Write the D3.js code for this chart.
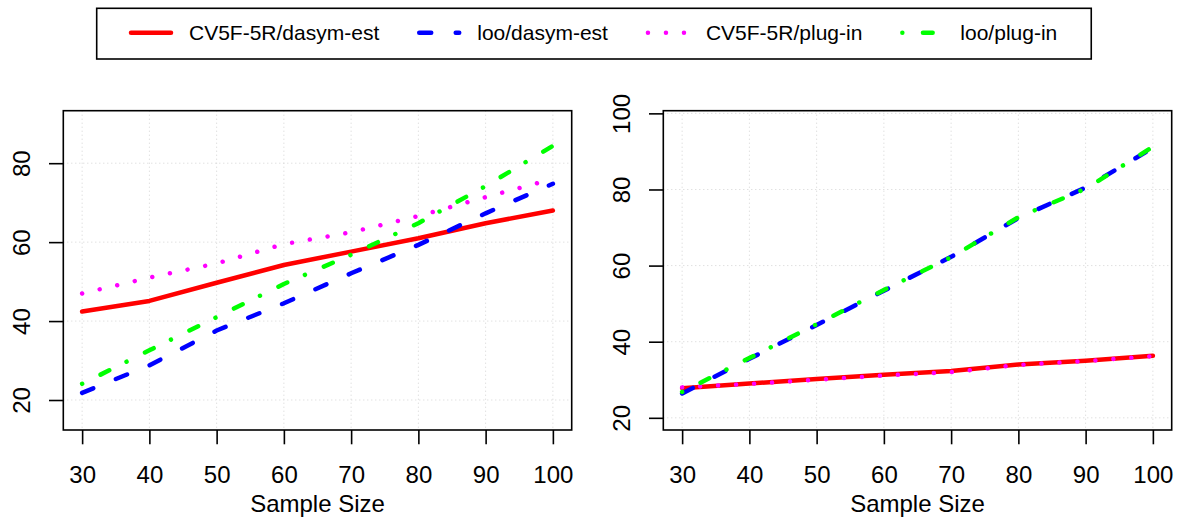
<!DOCTYPE html>
<html>
<head>
<meta charset="utf-8">
<title>sampleSize</title>
<script src="https://d3js.org/d3.v7.min.js"></script>
<style>
  body { margin: 0; background: #fff; }
  text { font-family: "Liberation Sans", Arial, sans-serif; fill: #000; }
</style>
</head>
<body>
<svg id="mainsvg" width="1182" height="520"></svg>
<script>
// data
const sampleSize = [30, 40, 50, 60, 70, 80, 90, 100];
const seriesNames = ['CV5F-5R/dasym-est', 'loo/dasym-est', 'CV5F-5R/plug-in', 'loo/plug-in'];
const seriesColors = ['#ff0000', '#0000ff', '#ff00ff', '#00ff00'];

// left panel
const cvDasymA = [42.4, 45.1, 49.7, 54.2, 57.6, 61.0, 64.8, 68.0];
const looDasymA = [21.8, 28.8, 37.6, 44.5, 52.1, 59.3, 67.3, 74.8];
const cvPlugA = [47.0, 51.0, 54.6, 59.5, 62.5, 66.6, 71.4, 76.0];
const looPlugA = [24.1, 32.6, 41.0, 49.4, 56.8, 64.8, 74.2, 84.4];
// right panel
const cvDasymB = [27.8, 29.0, 30.2, 31.3, 32.3, 34.0, 35.0, 36.3];
const looDasymB = [26.4, 35.5, 44.4, 53.4, 62.3, 72.5, 80.5, 90.9];
const cvPlugB = [28.0, 28.9, 30.0, 31.1, 32.0, 33.9, 34.9, 36.2];
const looPlugB = [26.8, 35.7, 44.6, 53.6, 62.2, 72.7, 80.2, 91.2];

const yTicksA = [20, 40, 60, 80];
const yTicksB = [20, 40, 60, 80, 100];
const xLimits = [27.2, 102.8];
const yLimitsA = [12.4, 93.3];
const yLimitsB = [16.8, 100.7];
const xLabel = 'Sample Size';

// line styles (solid, dashed, dotted, dotdash)
const lineWidth = 4.5;
const dashes = [null, '12,24.5', '0.01,18', '0.01,20.6,9.7,19.3'];

const svg = d3.select('#mainsvg');
const plotTop = 110.7, plotBottom = 430;

const drawPanel = function (left, right, yDomain, yTicks, values) {
    const x = d3.scaleLinear().domain(xLimits).range([left, right]);
    const y = d3.scaleLinear().domain(yDomain).range([plotBottom, plotTop]);
    const g = svg.append('g');

    // grid
    g.selectAll('.vgrid').data(sampleSize).join('line')
        .attr('x1', d => x(d)).attr('x2', d => x(d))
        .attr('y1', plotTop).attr('y2', plotBottom)
        .attr('stroke', '#d3d3d3').attr('stroke-dasharray', '1,3');
    g.selectAll('.hgrid').data(yTicks).join('line')
        .attr('x1', left).attr('x2', right)
        .attr('y1', d => y(d)).attr('y2', d => y(d))
        .attr('stroke', '#d3d3d3').attr('stroke-dasharray', '1,3');

    const line = d3.line().x((d, i) => x(sampleSize[i])).y(d => y(d));
    values.forEach((vals, k) => {
        g.append('path')
            .datum(vals)
            .attr('fill', 'none')
            .attr('stroke', seriesColors[k])
            .attr('stroke-width', lineWidth)
            .attr('stroke-linecap', 'round')
            .attr('stroke-linejoin', 'round')
            .attr('stroke-dasharray', dashes[k])
            .attr('d', line);
    });

    g.append('rect')
        .attr('x', left).attr('y', plotTop)
        .attr('width', right - left).attr('height', plotBottom - plotTop)
        .attr('fill', 'none').attr('stroke', '#000').attr('stroke-width', 1.6);

    const xAxis = g.append('g')
        .attr('transform', `translate(0, ${plotBottom})`)
        .call(d3.axisBottom(x).tickValues(sampleSize).tickSize(14.3).tickPadding(21.7).tickSizeOuter(0));
    xAxis.select('.domain').remove();
    xAxis.selectAll('.tick line').attr('stroke', '#000').attr('stroke-width', 1.6);
    xAxis.selectAll('.tick text').attr('font-size', 24).attr('font-family', null);

    const yAxis = g.append('g')
        .attr('transform', `translate(${left}, 0)`)
        .call(d3.axisLeft(y).tickValues(yTicks).tickSize(14.3).tickSizeOuter(0));
    yAxis.select('.domain').remove();
    yAxis.selectAll('.tick line').attr('stroke', '#000').attr('stroke-width', 1.6);
    yAxis.selectAll('.tick text')
        .attr('font-size', 24).attr('font-family', null)
        .attr('transform', 'rotate(-90)')
        .attr('x', 0).attr('y', -33.3).attr('dy', 0)
        .attr('text-anchor', 'middle');

    g.append('text')
        .attr('x', (left + right) / 2).attr('y', 512)
        .attr('text-anchor', 'middle')
        .attr('font-size', 24)
        .text(xLabel);
};

drawPanel(63.3, 571.7, yLimitsA, yTicksA, [cvDasymA, looDasymA, cvPlugA, looPlugA]);
drawPanel(663.3, 1171.7, yLimitsB, yTicksB, [cvDasymB, looDasymB, cvPlugB, looPlugB]);

// legend across the top
const lg = svg.append('g');
const legBox = lg.append('rect')
    .attr('x', 96.7).attr('y', 8.3).attr('height', 50.7)
    .attr('fill', '#fff').attr('stroke', '#000').attr('stroke-width', 1.6);
let cx = 131;
seriesNames.forEach((name, i) => {
    lg.append('line')
        .attr('x1', cx).attr('x2', cx + 40)
        .attr('y1', 32.7).attr('y2', 32.7)
        .attr('stroke', seriesColors[i])
        .attr('stroke-width', lineWidth)
        .attr('stroke-linecap', 'round')
        .attr('stroke-dasharray', dashes[i]);
    const t = lg.append('text')
        .attr('x', cx + 58).attr('y', 40)
        .attr('font-size', 21)
        .text(name);
    cx = cx + 58 + t.node().getComputedTextLength() + 40;
});
legBox.attr('width', cx - 6 - 96.7);
lg.raise();
</script>
</body>
</html>
